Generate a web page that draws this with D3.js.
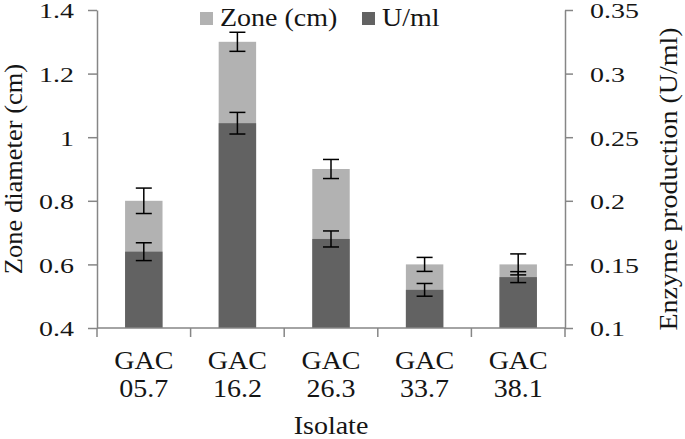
<!DOCTYPE html>
<html>
<head>
<meta charset="utf-8">
<script src="https://cdn.jsdelivr.net/npm/d3@7"></script>
<style>
  html, body { margin: 0; padding: 0; background: #fff; }
  svg { display: block; }
  text { font-family: "Liberation Serif", "Times New Roman", serif; fill: #151515; }
</style>
</head>
<body>
<svg id="chart" width="685" height="439"></svg>
<script>
// ---- data ----
const isolates = ["GAC 05.7", "GAC 16.2", "GAC 26.3", "GAC 33.7", "GAC 38.1"];
const zoneValues = [0.8, 1.3, 0.9, 0.6, 0.6];            // Zone (cm), left axis
const zoneErrors = [0.04, 0.03, 0.03, 0.022, 0.033];
const enzymeValues = [0.16, 0.261, 0.17, 0.13, 0.14];    // U/ml, right axis
const enzymeErrors = [0.007, 0.0085, 0.0063, 0.005, 0.0043];
const leftTicks = [0.4, 0.6, 0.8, 1.0, 1.2, 1.4];
const rightTicks = [0.1, 0.15, 0.2, 0.25, 0.3, 0.35];
const seriesNames = ["Zone (cm)", "U/ml"];

// ---- style ----
const FS = 25, SX = 1.12;      // category labels, titles, legend
const TFS = 22, TSX = 1.27;    // tick labels
const lightGray = "#b2b2b2", darkGray = "#626262", axisGray = "#868686";

const svg = d3.select("#chart");
const m = { left: 97, right: 685 - 565, top: 10, bottom: 439 - 328 };
const W = 685, H = 439;

const x = d3.scaleBand().domain(isolates).range([m.left, W - m.right])
  .paddingInner(0.6).paddingOuter(0.3);
const yL = d3.scaleLinear().domain([0.4, 1.4]).range([H - m.bottom, m.top]);
const yR = d3.scaleLinear().domain([0.1, 0.35]).range([H - m.bottom, m.top]);
const fmt = d => String(+d.toFixed(2));

function stretchText(sel) {
  sel.each(function () {
    const t = d3.select(this);
    const xx = +t.attr("x") || 0;
    t.attr("x", null).attr("dy", "0.36em")
     .attr("transform", `translate(${xx},0) scale(${TSX},1)`);
  });
}

// bars
const g = svg.append("g");
g.selectAll("rect.zone").data(isolates).join("rect")
  .attr("x", d => x(d)).attr("width", x.bandwidth())
  .attr("y", (d, i) => yL(zoneValues[i]))
  .attr("height", (d, i) => yL(0.4) - yL(zoneValues[i]))
  .attr("fill", lightGray);
g.selectAll("rect.enz").data(isolates).join("rect")
  .attr("x", d => x(d)).attr("width", x.bandwidth())
  .attr("y", (d, i) => yR(enzymeValues[i]))
  .attr("height", (d, i) => yR(0.1) - yR(enzymeValues[i]))
  .attr("fill", darkGray);

// error bars
function errorBars(vals, errs, scale) {
  const eg = svg.append("g").attr("stroke", "#000").attr("stroke-width", 1.5);
  isolates.forEach((d, i) => {
    const cx = x(d) + x.bandwidth() / 2;
    const y1 = scale(vals[i] + errs[i]), y2 = scale(vals[i] - errs[i]);
    const cw = 8;
    eg.append("line").attr("x1", cx).attr("x2", cx).attr("y1", y1).attr("y2", y2);
    eg.append("line").attr("x1", cx - cw).attr("x2", cx + cw).attr("y1", y1).attr("y2", y1);
    eg.append("line").attr("x1", cx - cw).attr("x2", cx + cw).attr("y1", y2).attr("y2", y2);
  });
}
errorBars(zoneValues, zoneErrors, yL);
errorBars(enzymeValues, enzymeErrors, yR);

// left axis
const gL = svg.append("g").attr("transform", `translate(${m.left},0)`)
  .call(d3.axisLeft(yL).tickValues(leftTicks).tickFormat(fmt)
    .tickSizeInner(9).tickSizeOuter(0).tickPadding(14));
gL.selectAll("text").style("font-size", TFS + "px").attr("fill", "#151515").call(stretchText);

// right axis
const gR = svg.append("g").attr("transform", `translate(${W - m.right},0)`)
  .call(d3.axisRight(yR).tickValues(rightTicks).tickFormat(fmt)
    .tickSizeInner(8).tickSizeOuter(0).tickPadding(17));
gR.selectAll("text").style("font-size", TFS + "px").attr("fill", "#151515").call(stretchText);

// bottom axis (category boundaries as ticks)
const gB = svg.append("g").attr("transform", `translate(0,${H - m.bottom})`);
gB.append("line").attr("x1", m.left).attr("x2", W - m.right).attr("stroke", axisGray).attr("stroke-width", 1.5);
const half = x.step() * x.paddingInner() / 2;
const bounds = isolates.map(d => x(d) - half).concat([x(isolates[isolates.length - 1]) + x.bandwidth() + half]);
gB.selectAll("line.tk").data(bounds).join("line")
  .attr("x1", d => d).attr("x2", d => d).attr("y1", 0).attr("y2", 9)
  .attr("stroke", axisGray).attr("stroke-width", 1.5);
isolates.forEach(d => {
  const cx = x(d) + x.bandwidth() / 2;
  const parts = d.split(" ");
  const t = gB.append("text").attr("text-anchor", "middle")
    .attr("transform", `translate(${cx},41) scale(${SX},1)`)
    .style("font-size", FS + "px");
  parts.forEach((p, j) => {
    t.append("tspan").attr("x", 0).attr("dy", j === 0 ? 0 : 28).text(p);
  });
});

[gL, gR].forEach(a => {
  a.selectAll("path.domain").attr("stroke", axisGray).attr("stroke-width", 1.5);
  a.selectAll(".tick line").attr("stroke", axisGray).attr("stroke-width", 1.5);
});

// axis titles
svg.append("text").attr("text-anchor", "middle")
  .attr("transform", `translate(22,${(m.top + H - m.bottom) / 2}) rotate(-90) scale(1.06,1)`)
  .style("font-size", FS + "px").text("Zone diameter (cm)");
svg.append("text").attr("text-anchor", "middle")
  .attr("transform", `translate(677,${(m.top + H - m.bottom) / 2 + 10}) rotate(-90) scale(${SX},1)`)
  .style("font-size", FS + "px").text("Enzyme production (U/ml)");
svg.append("text").attr("text-anchor", "middle")
  .attr("transform", `translate(${(m.left + W - m.right) / 2},434) scale(${SX},1)`)
  .style("font-size", FS + "px").text("Isolate");

// legend
const legendX = [200, 362];
const legendColors = [lightGray, darkGray];
seriesNames.forEach((s, i) => {
  svg.append("rect").attr("x", legendX[i]).attr("y", 12).attr("width", 13).attr("height", 13)
    .attr("fill", legendColors[i]);
  svg.append("text").attr("transform", `translate(${legendX[i] + 20},26) scale(${SX},1)`)
    .style("font-size", FS + "px").text(s);
});
</script>
</body>
</html>
